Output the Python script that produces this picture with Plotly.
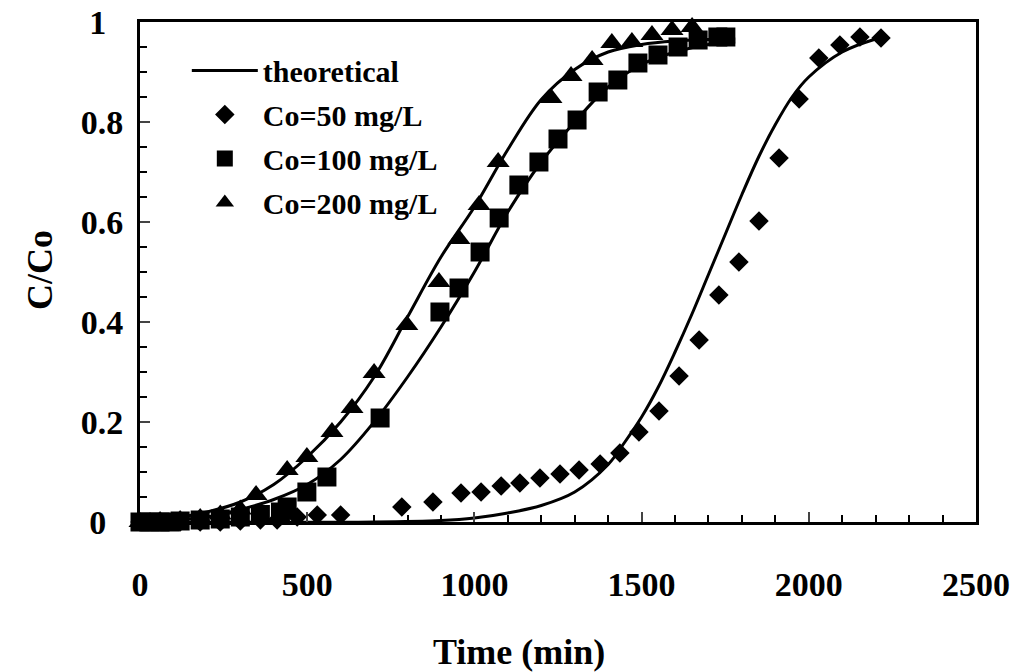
import plotly.graph_objects as go

# --- experimental data ---
t50 = [0, 30, 60, 120, 180, 240, 300, 360, 410, 470, 530, 600, 783, 876, 960, 1020, 1080, 1136,
       1196, 1256, 1313, 1376, 1435, 1492, 1552, 1612, 1672, 1731, 1791, 1851, 1911, 1971,
       2030, 2093, 2153, 2216]
c50 = [0.0, 0.0, 0.0, 0.0, 0.0, 0.0, 0.002, 0.004, 0.004, 0.01, 0.014, 0.014, 0.03, 0.04,
       0.058, 0.06, 0.072, 0.078, 0.088, 0.096, 0.104, 0.116, 0.138, 0.18, 0.222, 0.292,
       0.364, 0.454, 0.52, 0.602, 0.728, 0.846, 0.928, 0.954, 0.97, 0.968]

t100 = [0, 30, 60, 90, 120, 180, 240, 300, 360, 420, 440, 499, 559, 718, 897, 954, 1017, 1074,
        1133, 1193, 1250, 1307, 1370, 1429, 1489, 1549, 1609, 1669, 1728, 1752]
c100 = [0.0, 0.0, 0.0, 0.0, 0.002, 0.004, 0.006, 0.01, 0.015, 0.02, 0.03, 0.06, 0.09, 0.208,
        0.42, 0.468, 0.54, 0.608, 0.674, 0.72, 0.766, 0.804, 0.86, 0.884, 0.918, 0.934,
        0.95, 0.964, 0.97, 0.97]

t200 = [0, 30, 60, 120, 180, 240, 300, 347, 440, 499, 574, 634, 700, 798, 894, 954, 1014, 1071,
        1229, 1289, 1352, 1411, 1471, 1531, 1591, 1651]
c200 = [0.0, 0.0, 0.002, 0.004, 0.008, 0.015, 0.025, 0.054, 0.104, 0.13, 0.18, 0.228, 0.298,
        0.394, 0.48, 0.566, 0.634, 0.72, 0.848, 0.892, 0.924, 0.958, 0.96, 0.974, 0.984, 0.99]

# --- theoretical curves ---
tt50 = [0, 700, 900, 1000, 1100, 1200, 1300, 1400, 1450, 1500, 1550, 1600, 1650, 1700, 1750,
        1800, 1850, 1900, 1950, 2000, 2100, 2200]
ct50 = [0.0, 0.0, 0.003, 0.008, 0.018, 0.033, 0.06, 0.115, 0.16, 0.21, 0.27, 0.34, 0.415,
        0.495, 0.575, 0.655, 0.73, 0.795, 0.85, 0.89, 0.94, 0.966]

tt100 = [0, 200, 300, 400, 500, 600, 700, 800, 900, 1000, 1100, 1200, 1300, 1400, 1500, 1600,
         1700, 1780]
ct100 = [0.002, 0.01, 0.025, 0.045, 0.075, 0.125, 0.2, 0.29, 0.39, 0.5, 0.62, 0.72, 0.8, 0.87,
         0.915, 0.94, 0.955, 0.96]

tt200 = [0, 100, 200, 300, 400, 500, 600, 700, 800, 900, 1000, 1100, 1200, 1300, 1400, 1500,
         1600, 1700, 1780]
ct200 = [0.003, 0.008, 0.02, 0.04, 0.075, 0.13, 0.2, 0.29, 0.41, 0.53, 0.63, 0.745, 0.845, 0.905,
         0.94, 0.955, 0.962, 0.965, 0.966]

x_ticks = [0, 500, 1000, 1500, 2000, 2500]
y_ticks = [0, 0.2, 0.4, 0.6, 0.8, 1]
y_ticklabels = ["0\u00a0\u00a0", "0.2", "0.4", "0.6", "0.8", "1\u00a0\u00a0"]

FONT = "Liberation Serif"

fig = go.Figure()
for i, (tx, cy) in enumerate([(tt50, ct50), (tt100, ct100), (tt200, ct200)]):
    fig.add_trace(go.Scatter(
        x=tx, y=cy, mode="lines", line=dict(color="black", width=3, shape="spline", smoothing=1.0),
        name="theoretical", legendgroup="theo", showlegend=(i == 0)))

fig.add_trace(go.Scatter(x=t50, y=c50, mode="markers", name="Co=50 mg/L", legendgroup="g50",
                         marker=dict(symbol="diamond", size=15, color="black")))
fig.add_trace(go.Scatter(x=t100, y=c100, mode="markers", name="Co=100 mg/L", legendgroup="g100",
                         marker=dict(symbol="square", size=19, color="black")))
fig.add_trace(go.Scatter(x=t200, y=c200, mode="markers", name="Co=200 mg/L", legendgroup="g200",
                         marker=dict(symbol="triangle-up", size=20, color="black")))
fig.update_traces(cliponaxis=False)

fig.update_layout(
    width=1020, height=672,
    margin=dict(l=140, r=44, t=22, b=150, autoexpand=False),
    paper_bgcolor="white", plot_bgcolor="white",
    font=dict(family=FONT, color="black", size=30),
    showlegend=True,
    legend=dict(x=0.056, y=0.955, xanchor="left", yanchor="top",
                font=dict(family=FONT, size=30, color="black", weight="bold"),
                bgcolor="rgba(0,0,0,0)", tracegroupgap=2, itemwidth=66),
    xaxis=dict(range=[0, 2500], tickvals=x_ticks, ticks="inside", ticklen=10, tickwidth=2,
               showline=True, linewidth=3, linecolor="black", mirror=True, showgrid=False,
               zeroline=False, ticklabelstandoff=30, automargin=False,
               tickfont=dict(family=FONT, size=34, weight="bold"),
               minor=dict(dtick=100, ticks="inside", ticklen=7, tickwidth=1.5, tickcolor="black")),
    yaxis=dict(range=[0, 1], tickvals=y_ticks, ticktext=y_ticklabels, ticks="inside",
               ticklen=10, tickwidth=2,
               showline=True, linewidth=3, linecolor="black", mirror=True, showgrid=False,
               zeroline=False, ticklabelstandoff=7, automargin=False,
               tickfont=dict(family=FONT, size=34, weight="bold"),
               minor=dict(dtick=0.05, ticks="inside", ticklen=7, tickwidth=1.5, tickcolor="black")),
    annotations=[
        dict(text="Time (min)", xref="paper", yref="paper", x=0.4533, y=-0.26,
             xanchor="center", yanchor="middle", showarrow=False,
             font=dict(family=FONT, size=36, weight="bold", color="black")),
        dict(text="C/Co", xref="paper", yref="paper", x=-0.1196, y=0.504, textangle=-90,
             xanchor="center", yanchor="middle", showarrow=False,
             font=dict(family=FONT, size=36, weight="bold", color="black")),
    ],
)

fig.write_html("out.html")
